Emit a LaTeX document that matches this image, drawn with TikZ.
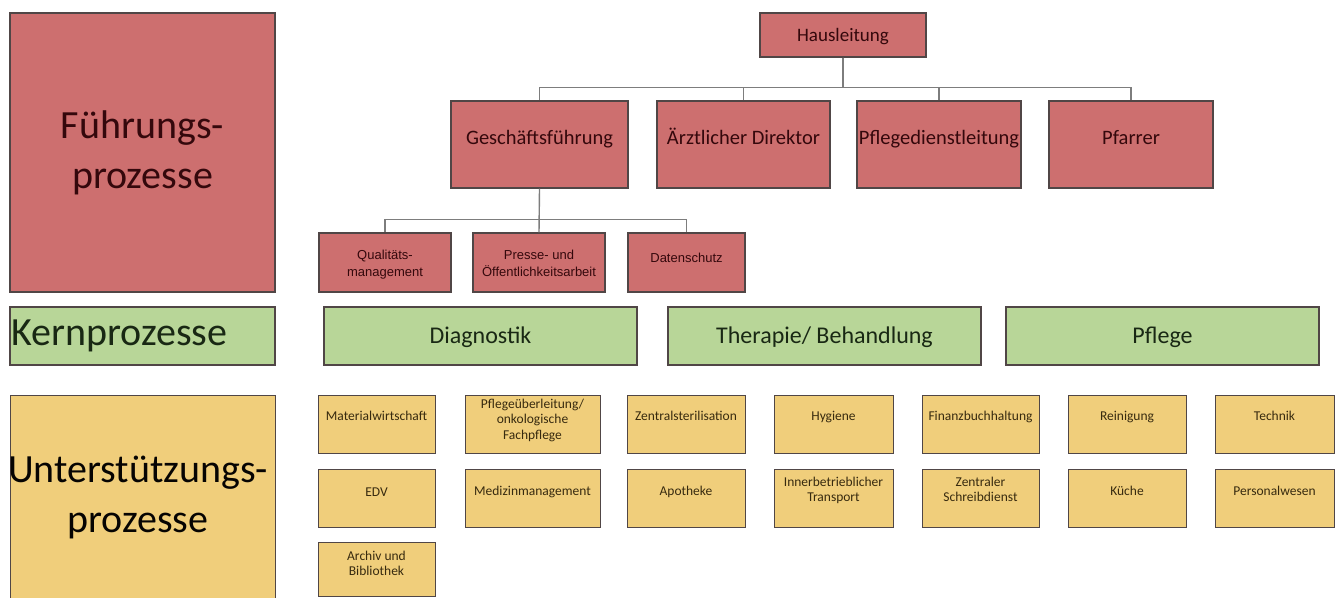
\documentclass[tikz,border=0pt]{standalone}
\usepackage{fontspec}
\setmainfont{Carlito}
\newfontfamily\arialf{Liberation Sans}
\usetikzlibrary{shadows}
\definecolor{redfill}{RGB}{205,111,111}
\definecolor{greenfill}{RGB}{184,214,152}
\definecolor{yellowfill}{RGB}{240,206,123}
\definecolor{edgecol}{RGB}{80,70,70}
\definecolor{redtext}{RGB}{52,8,12}
\definecolor{greentext}{RGB}{25,40,20}
\definecolor{yellowtext}{RGB}{55,42,15}
\definecolor{conncol}{RGB}{125,125,125}
\newcommand\mkbox[6]{\node[#1, minimum width={(#5-#3)*1pt}, minimum height={(#6-#4)*1pt}] (#2) at ({(#3+#5)/2},{(#4+#6)/2}) {};}
\newcommand\toptext[4]{\node[#1] (#2t) at ([yshift=-#3]#2.north) {#4};}
\newcommand\midtext[3]{\node[#1] (#2t) at ([yshift=-2pt]#2.center) {#3};}
\tikzset{
  basebox/.style={rectangle, draw=edgecol, line width=1.2pt, inner sep=0pt,
    drop shadow={shadow xshift=1.2pt, shadow yshift=-1.2pt, opacity=0.25}},
  redbox/.style={basebox, fill=redfill},
  greenbox/.style={basebox, fill=greenfill},
  yellowbox/.style={basebox, fill=yellowfill, line width=1pt},
  strutted/.style={execute at begin node=\strut, execute at end node=\strut},
  bigtxt/.style={font=\fontsize{40}{50}\selectfont, align=center, inner sep=0pt},
  hltxt/.style={strutted, font=\fontsize{19}{22}\selectfont, text=redtext, inner sep=0pt},
  rtxt/.style={strutted, font=\fontsize{20.5}{24}\selectfont, text=redtext, inner sep=0pt},
  srtxt/.style={strutted, font=\arialf\fontsize{13}{17}\selectfont, text=redtext, align=center, inner sep=0pt},
  gtxt/.style={strutted, font=\fontsize{24}{28}\selectfont, text=greentext, inner sep=0pt},
  ytxt/.style={strutted, font=\fontsize{13.5}{15.5}\selectfont, text=yellowtext, align=center, inner sep=0pt},
  conn/.style={draw=conncol, line width=1.4pt}
}
\begin{document}
\begin{tikzpicture}[x=1pt,y=-1pt]
\useasboundingbox (0,0) rectangle (1341,597);
% big category boxes
\mkbox{redbox}{fuehr}{10}{13}{275}{292}
\node[bigtxt, text=redtext] (fuehrt) at (fuehr.center) {Führungs-\\prozesse};
\mkbox{greenbox}{kern}{10}{307}{275}{365}
\node[bigtxt, text=greentext, anchor=west] (kernt) at ([xshift=2pt]kern.west) {Kernprozesse};
\mkbox{yellowbox}{unter}{10}{395}{275}{599}
\node[bigtxt, text=black!90!yellowtext] (untert) at (138,497) {Unterstützungs-\\prozesse};
% hierarchy
\mkbox{redbox}{haus}{760}{13}{926}{57}
\midtext{hltxt}{haus}{Hausleitung}
\mkbox{redbox}{gf}{451}{101}{628}{188}
\toptext{rtxt}{gf}{39pt}{Geschäftsführung}
\mkbox{redbox}{aed}{657}{101}{830}{188}
\toptext{rtxt}{aed}{39pt}{Ärztlicher Direktor}
\mkbox{redbox}{pdl}{857}{101}{1021}{188}
\toptext{rtxt}{pdl}{39pt}{Pflegedienstleitung}
\mkbox{redbox}{pf}{1049}{101}{1213}{188}
\toptext{rtxt}{pf}{39pt}{Pfarrer}
\mkbox{redbox}{qm}{319}{233}{451}{292}
\toptext{srtxt}{qm}{33pt}{Qualitäts-\\management}
\mkbox{redbox}{pr}{473}{233}{605}{292}
\toptext{srtxt}{pr}{33pt}{Presse- und\\Öffentlichkeitsarbeit}
\mkbox{redbox}{ds}{628}{233}{745}{292}
\toptext{srtxt}{ds}{27pt}{Datenschutz}
\draw[conn] (haus.south) -- ++(0,30) -| (gf.north);
\draw[conn] (haus.south) -- ++(0,30) -| (aed.north);
\draw[conn] (haus.south) -- ++(0,30) -| (pdl.north);
\draw[conn] (haus.south) -- ++(0,30) -| (pf.north);
\draw[conn] (gf.south) -- ++(0,31) -| (qm.north);
\draw[conn] (gf.south) -- (pr.north);
\draw[conn] (gf.south) -- ++(0,31) -| (ds.north);
% core processes
\mkbox{greenbox}{diag}{324}{307}{637}{365}
\midtext{gtxt}{diag}{Diagnostik}
\mkbox{greenbox}{ther}{668}{307}{981}{365}
\midtext{gtxt}{ther}{Therapie/ Behandlung}
\mkbox{greenbox}{pfl}{1006}{307}{1319}{365}
\midtext{gtxt}{pfl}{Pflege}
% support processes
\mkbox{yellowbox}{mw}{318}{395}{435}{453}
\toptext{ytxt}{mw}{23pt}{Materialwirtschaft}
\mkbox{yellowbox}{pue}{465}{395}{600}{453}
\toptext{ytxt}{pue}{27pt}{Pflegeüberleitung/\\onkologische\\Fachpflege}
\mkbox{yellowbox}{zs}{627}{395}{745}{453}
\toptext{ytxt}{zs}{23pt}{Zentralsterilisation}
\mkbox{yellowbox}{hy}{774}{395}{893}{453}
\toptext{ytxt}{hy}{23pt}{Hygiene}
\mkbox{yellowbox}{fb}{922}{395}{1039}{453}
\toptext{ytxt}{fb}{23pt}{Finanzbuchhaltung}
\mkbox{yellowbox}{rei}{1068}{395}{1186}{453}
\toptext{ytxt}{rei}{23pt}{Reinigung}
\mkbox{yellowbox}{tec}{1215}{395}{1334}{453}
\toptext{ytxt}{tec}{23pt}{Technik}
\mkbox{yellowbox}{edv}{318}{469}{435}{527}
\toptext{ytxt}{edv}{25pt}{EDV}
\mkbox{yellowbox}{mm}{465}{469}{600}{527}
\toptext{ytxt}{mm}{24pt}{Medizinmanagement}
\mkbox{yellowbox}{apo}{627}{469}{745}{527}
\toptext{ytxt}{apo}{24pt}{Apotheke}
\mkbox{yellowbox}{itr}{774}{469}{893}{527}
\toptext{ytxt}{itr}{23pt}{Innerbetrieblicher\\Transport}
\mkbox{yellowbox}{zsd}{922}{469}{1039}{527}
\toptext{ytxt}{zsd}{23pt}{Zentraler\\Schreibdienst}
\mkbox{yellowbox}{ku}{1068}{469}{1186}{527}
\toptext{ytxt}{ku}{24pt}{Küche}
\mkbox{yellowbox}{pw}{1215}{469}{1334}{527}
\toptext{ytxt}{pw}{24pt}{Personalwesen}
\mkbox{yellowbox}{arc}{318}{542}{435}{596}
\toptext{ytxt}{arc}{24pt}{Archiv und\\Bibliothek}
\end{tikzpicture}
\end{document}
